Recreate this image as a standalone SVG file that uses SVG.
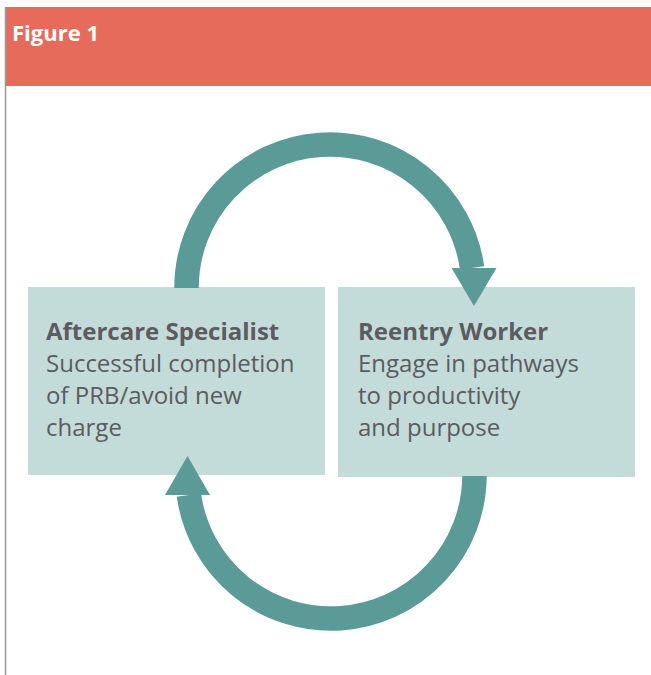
<svg xmlns="http://www.w3.org/2000/svg" width="651" height="675" viewBox="0 0 651 675">
  <style>
    .box { fill: #c3dbd9; }
    .arc { fill: none; stroke: #5a9a97; stroke-width: 24.5; }
    .head { fill: #5a9a97; }
    .title { font-family: "Open Sans", "Liberation Sans", sans-serif; font-weight: 700; font-size: 24px; fill: #5c5b5f; }
    .body { font-family: "Open Sans", "Liberation Sans", sans-serif; font-size: 24px; fill: #5c5b5f; }
    .fig { font-family: "Open Sans", "Liberation Sans", sans-serif; font-weight: 700; font-size: 22px; fill: #ffffff; }
  </style>
  <rect x="0" y="0" width="651" height="675" fill="#ffffff"/>
  <g id="header">
    <rect x="5" y="7" width="646" height="79" fill="#e66b5b"/>
    <text class="fig" x="12" y="41">Figure 1</text>
  </g>
  <line x1="5.5" y1="7" x2="5.5" y2="675" stroke="#9a9a9a" stroke-width="1.5"/>
  <g id="aftercare">
    <rect class="box" x="28" y="287" width="297" height="188"/>
    <text class="title" x="46" y="340">Aftercare Specialist</text>
    <text class="body" x="46" y="372">Successful completion</text>
    <text class="body" x="46" y="404">of PRB/avoid new</text>
    <text class="body" x="46" y="436">charge</text>
  </g>
  <g id="reentry">
    <rect class="box" x="338" y="287" width="297" height="190"/>
    <text class="title" x="358" y="340">Reentry Worker</text>
    <text class="body" x="358" y="372">Engage in pathways</text>
    <text class="body" x="358" y="404">to productivity</text>
    <text class="body" x="358" y="436">and purpose</text>
  </g>
  <g id="connectors">
    <path class="arc" d="M186.5,288 A143.5,143.5 0 0 1 472.1,268"/>
    <polygon class="head" points="451.5,268 496.5,268 474,306"/>
    <path class="arc" d="M474.5,476 A143.5,143.5 0 0 1 188.9,495"/>
    <polygon class="head" points="165,495 210,495 187.5,456"/>
  </g>
</svg>
